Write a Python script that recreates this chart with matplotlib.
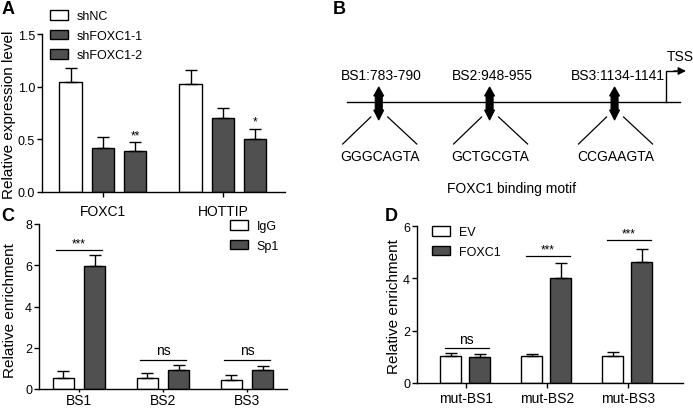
import matplotlib
matplotlib.use("Agg")
import matplotlib.pyplot as plt
import numpy as np

plt.rcParams['font.family'] = ['Liberation Sans', 'DejaVu Sans']
plt.rcParams['font.size'] = 9

# ---- data ----
# panel A
genes_a = ["FOXC1", "HOTTIP"]
groups_a = ["shNC", "shFOXC1-1", "shFOXC1-2"]
mean_a = [[1.04, 1.03], [0.42, 0.70], [0.39, 0.50]]
err_a = [[0.14, 0.13], [0.10, 0.10], [0.08, 0.10]]
stars_a = [["", ""], ["", ""], ["**", "*"]]

# panel B
site_names = ["BS1:783-790", "BS2:948-955", "BS3:1134-1141"]
site_start = [783, 948, 1134]
site_end = [790, 955, 1141]
site_seq = ["GGGCAGTA", "GCTGCGTA", "CCGAAGTA"]

# panel C
sites_c = ["BS1", "BS2", "BS3"]
igg_c = [0.55, 0.52, 0.45]
igg_err_c = [0.33, 0.26, 0.23]
sp1_c = [5.95, 0.93, 0.92]
sp1_err_c = [0.55, 0.25, 0.20]
sig_c = ["***", "ns", "ns"]
sig_y_c = [6.75, 1.42, 1.42]

# panel D
sites_d = ["mut-BS1", "mut-BS2", "mut-BS3"]
ev_d = [1.05, 1.02, 1.05]
ev_err_d = [0.10, 0.10, 0.12]
foxc1_d = [1.00, 4.03, 4.63]
foxc1_err_d = [0.12, 0.57, 0.49]
sig_d = ["ns", "***", "***"]
sig_y_d = [1.34, 4.86, 5.45]

DARK = "#505050"
W, H = 693, 410

fig = plt.figure(figsize=(W / 100, H / 100), dpi=100)


def px_axes(left, top, right, bottom):
    return fig.add_axes([left / W, 1 - bottom / H, (right - left) / W, (bottom - top) / H])


def fig_xy(px, py):
    return (px / W, 1 - py / H)


def style_axes(ax, xpad, xlen=3.5):
    for s in ["top", "right"]:
        ax.spines[s].set_visible(False)
    for s in ["left", "bottom"]:
        ax.spines[s].set_linewidth(1.0)
    ax.tick_params(axis="both", direction="out", length=3.5, width=1.0, labelsize=9)
    ax.tick_params(axis="y", pad=1.5)
    ax.tick_params(axis="x", labelsize=10, pad=xpad, length=xlen)


def up_errbar(ax, x, y, e):
    ax.errorbar(x, y, yerr=[np.zeros(len(e)), e], fmt="none", ecolor="black",
                elinewidth=1.0, capsize=4.5, capthick=1.0, zorder=3)


def sig_line(ax, x0, x1, y, txt, ymax):
    ax.plot([x0, x1], [y, y], color="black", lw=0.9, clip_on=False)
    if txt == "ns":
        ax.text((x0 + x1) / 2, y + ymax * 0.015, txt, ha="center", va="bottom", fontsize=10)
    else:
        ax.text((x0 + x1) / 2, y + ymax * 0.005, txt, ha="center", va="bottom", fontsize=8.5)


def add_legend(ax, px, py):
    ax.legend(loc="upper left", bbox_to_anchor=fig_xy(px, py), bbox_transform=fig.transFigure,
              frameon=False, fontsize=9, handlelength=1.45, handleheight=0.8,
              labelspacing=0.6, handletextpad=0.7, borderaxespad=0, borderpad=0)


def set_ylabel(ax, text, left, right, top, bottom, xr, yc):
    ax.set_ylabel(text, fontsize=11)
    ax.yaxis.set_label_coords((xr - left) / (right - left), (bottom - yc) / (bottom - top))


# ---- panel A ----
LA, TA, RA, BA = 42, 35, 285, 193
axA = px_axes(LA, TA, RA, BA)
x = np.arange(len(genes_a))
offs = [-0.27, 0.0, 0.27]
colors = ["white", DARK, DARK]
for i, g in enumerate(groups_a):
    axA.bar(x + offs[i], mean_a[i], width=0.185, color=colors[i], edgecolor="black",
            linewidth=1.0, label=g, zorder=2)
    up_errbar(axA, x + offs[i], mean_a[i], err_a[i])
    for j in range(len(x)):
        if stars_a[i][j]:
            axA.text(x[j] + offs[i], mean_a[i][j] + err_a[i][j] + 0.01, stars_a[i][j],
                     ha="center", va="bottom", fontsize=8.5)
axA.set_xlim(-0.508, 1.517)
axA.set_ylim(0, 1.5)
axA.set_yticks([0, 0.5, 1.0, 1.5])
axA.set_yticklabels(["0.0", "0.5", "1.0", "1.5"])
axA.set_xticks(x)
axA.set_xticklabels(genes_a)
style_axes(axA, 5)
set_ylabel(axA, "Relative expression level", LA, RA, TA, BA, 16, 115)
add_legend(axA, 50, 11)

# ---- panel B (schematic) ----
axB = px_axes(340, 40, 693, 200)
axB.set_xlim(340, 693)
axB.set_ylim(200, 40)
axB.axis("off")
centers = (np.array(site_start) + np.array(site_end)) / 2
px_pos = 494.3 + 0.6718 * (centers - centers.mean())
line_y = 103
# double-headed marker shape (pixel offsets from site position)
mk_dx = np.array([0, 5, 3.5, 3.5, 5, 0, -5, -3.5, -3.5, -5])
mk_y = np.array([88, 97, 97, 111, 111, 121, 111, 111, 97, 97])
axB.plot([347, 680], [line_y, line_y], color="black", lw=1.0)
for xs, nm, sq in zip(px_pos, site_names, site_seq):
    axB.fill(xs + mk_dx, mk_y, color="black", lw=0.8, zorder=3)
    axB.text(xs + 3, 76, nm, ha="center", va="center", fontsize=10)
    axB.plot([xs - 8, xs - 36], [118, 145], color="black", lw=0.9)
    axB.plot([xs + 9, xs + 38], [118, 145], color="black", lw=0.9)
    axB.text(xs + 1, 157, sq, ha="center", va="center", fontsize=10)
axB.plot([666, 666, 676], [line_y, 72, 72], color="black", lw=1.0)
axB.annotate("", xy=(686, 72), xytext=(674, 72),
             arrowprops=dict(arrowstyle="-|>,head_length=0.5,head_width=0.25",
                             lw=1.0, color="black", shrinkA=0, shrinkB=0))
axB.text(680, 57, "TSS", ha="center", va="center", fontsize=10)
axB.text(512, 189, "FOXC1 binding motif", ha="center", va="center", fontsize=10)

# ---- panel C ----
LC, TC, RC, BC = 39, 225, 287, 390
axC = px_axes(LC, TC, RC, BC)
x = np.arange(len(sites_c))
axC.bar(x - 0.185, igg_c, width=0.25, color="white", edgecolor="black", lw=1.0,
        label="IgG", zorder=2)
axC.bar(x + 0.19, sp1_c, width=0.25, color=DARK, edgecolor="black", lw=1.0,
        label="Sp1", zorder=2)
up_errbar(axC, x - 0.185, igg_c, igg_err_c)
up_errbar(axC, x + 0.19, sp1_c, sp1_err_c)
for j in range(len(x)):
    sig_line(axC, x[j] - 0.27, x[j] + 0.27, sig_y_c[j], sig_c[j], 8)
axC.set_xlim(-0.476, 2.476)
axC.set_ylim(0, 8)
axC.set_yticks([0, 2, 4, 6, 8])
axC.set_xticks(x)
axC.set_xticklabels(sites_c)
style_axes(axC, 0.3, xlen=2.5)
set_ylabel(axC, "Relative enrichment", LC, RC, TC, BC, 17, 311)
add_legend(axC, 230, 221)

# ---- panel D ----
LD, TD, RD, BD = 417, 227, 683, 384
axD = px_axes(LD, TD, RD, BD)
x = np.arange(len(sites_d))
axD.bar(x - 0.19, ev_d, width=0.26, color="white", edgecolor="black", lw=1.0,
        label="EV", zorder=2)
axD.bar(x + 0.17, foxc1_d, width=0.26, color=DARK, edgecolor="black", lw=1.0,
        label="FOXC1", zorder=2)
up_errbar(axD, x - 0.19, ev_d, ev_err_d)
up_errbar(axD, x + 0.17, foxc1_d, foxc1_err_d)
for j in range(len(x)):
    sig_line(axD, x[j] - 0.26, x[j] + 0.28, sig_y_d[j], sig_d[j], 6)
axD.set_xlim(-0.605, 2.68)
axD.set_ylim(0, 6)
axD.set_yticks([0, 2, 4, 6])
axD.set_xticks(x)
axD.set_xticklabels(sites_d)
style_axes(axD, 2.0)
set_ylabel(axD, "Relative enrichment", LD, RD, TD, BD, 401, 307)
add_legend(axD, 432, 227)

# ---- panel letters ----
for lbl, (px, py) in zip("ABCD", [(2, 10), (333, 10), (1, 217), (385, 217)]):
    fig.text(px / W, 1 - py / H, lbl, fontsize=13, fontweight="bold",
             ha="left", va="center")

fig.savefig("out.png", dpi=100)
